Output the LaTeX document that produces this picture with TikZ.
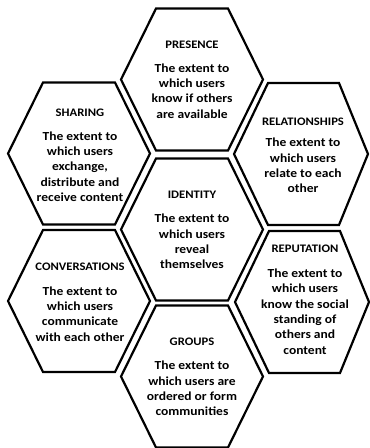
\documentclass[tikz,border=0pt]{standalone}
\usepackage{fontspec}
\setmainfont{Carlito}[FakeStretch=1.1]
\tikzset{
  hexline/.style={line width=2.2pt, line join=miter},
  hex/.pic={\draw[hexline] (-71,0) -- (-36,-71) -- (36,-71) -- (71,0) -- (36,71) -- (-36,71) -- cycle;},
  hexR/.pic={\draw[hexline] (-70,0) -- (-36,-71) -- (35,-71) -- (64,0) -- (35,71) -- (-36,71) -- cycle;},
  ttl/.style={font=\bfseries\fontsize{11.5}{12}\selectfont, align=center, inner sep=0pt},
  body/.style={font=\bfseries\fontsize{12.3}{15.3}\selectfont, align=center, inner sep=0pt}
}
\begin{document}
\begin{tikzpicture}[x=1pt,y=-1pt]
\useasboundingbox (0,0) rectangle (370,448);
% hexagons
\pic at (192,79.5) {hex};
\pic at (192,229.5) {hex};
\pic at (192,376.5) {hex};
\pic at (79,153.5) {hex};
\pic at (79,301) {hex};
\pic at (304,154) {hexR};
\pic at (305,302) {hexR};
% texts
\node[ttl] (presT) at (192,45) {PRESENCE};
\node[body] (presB) at (192,91) {The extent to\\which users\\know if others\\are available};
\node[ttl] (shT) at (80,113) {SHARING};
\node[body] (shB) at (80,166.5) {The extent to\\which users\\exchange,\\distribute and\\receive content};
\node[ttl] (relT) at (303,122) {RELATIONSHIPS};
\node[body] (relB) at (303,165.5) {The extent to\\which users\\relate to each\\other};
\node[ttl] (idT) at (192,195) {IDENTITY};
\node[body] (idB) at (192,241.5) {The extent to\\which users\\reveal\\themselves};
\node[ttl] (convT) at (80,267) {CONVERSATIONS};
\node[body] (convB) at (80,314) {The extent to\\which users\\communicate\\with each other};
\node[ttl] (repT) at (305,249) {REPUTATION};
\node[body] (repB) at (305,311.5) {The extent to\\which users\\know the social\\standing of\\others and\\content};
\node[ttl] (grT) at (192,342) {GROUPS};
\node[body] (grB) at (192,388.5) {The extent to\\which users are\\ordered or form\\communities};
\end{tikzpicture}
\end{document}
